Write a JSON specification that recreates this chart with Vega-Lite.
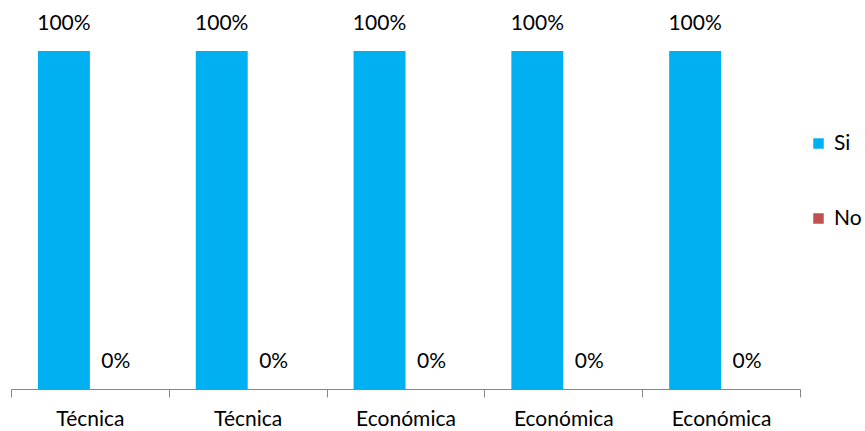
{
  "$schema": "https://vega.github.io/schema/vega-lite/v6.json",
  "width": 789,
  "height": 338,
  "autosize": {"type": "none"},
  "padding": {"left": 11, "top": 51, "right": 65, "bottom": 42},
  "background": "white",
  "config": {"view": {"stroke": null}, "font": "Lato"},
  "data": {
    "values": [
      {"grupo": "1", "categoria": "Técnica", "serie": "Si", "valor": 1},
      {"grupo": "1", "categoria": "Técnica", "serie": "No", "valor": 0},
      {"grupo": "2", "categoria": "Técnica", "serie": "Si", "valor": 1},
      {"grupo": "2", "categoria": "Técnica", "serie": "No", "valor": 0},
      {"grupo": "3", "categoria": "Económica", "serie": "Si", "valor": 1},
      {"grupo": "3", "categoria": "Económica", "serie": "No", "valor": 0},
      {"grupo": "4", "categoria": "Económica", "serie": "Si", "valor": 1},
      {"grupo": "4", "categoria": "Económica", "serie": "No", "valor": 0},
      {"grupo": "5", "categoria": "Económica", "serie": "Si", "valor": 1},
      {"grupo": "5", "categoria": "Económica", "serie": "No", "valor": 0}
    ]
  },
  "encoding": {
    "x": {
      "field": "grupo",
      "type": "nominal",
      "scale": {"paddingInner": 0, "paddingOuter": 0},
      "axis": {
        "title": null,
        "labelAngle": 0,
        "labelExpr": "['Técnica','Técnica','Económica','Económica','Económica'][toNumber(datum.value)-1]",
        "labelFont": "Lato",
        "labelFontSize": 21,
        "labelColor": "#000000",
        "labelPadding": 11,
        "domainColor": "#868686",
        "tickColor": "#868686",
        "tickSize": 8,
        "tickBand": "extent",
        "grid": false
      }
    },
    "xOffset": {
      "field": "serie",
      "type": "nominal",
      "sort": ["Si", "No"],
      "scale": {"paddingInner": 0, "paddingOuter": 0.519}
    },
    "y": {
      "field": "valor",
      "type": "quantitative",
      "scale": {"domain": [0, 1]},
      "axis": null
    }
  },
  "layer": [
    {
      "mark": {"type": "bar"},
      "encoding": {
        "color": {
          "field": "serie",
          "type": "nominal",
          "sort": ["Si", "No"],
          "scale": {"domain": ["Si", "No"], "range": ["#00B0F0", "#C0504D"]},
          "legend": {
            "title": null,
            "orient": "none",
            "legendX": 797,
            "legendY": 82,
            "symbolType": "square",
            "symbolSize": 110,
            "symbolStrokeWidth": 0,
            "labelFont": "Lato",
            "labelFontSize": 21,
            "labelColor": "#000000",
            "labelOffset": 5,
            "rowPadding": 53
          }
        }
      }
    },
    {
      "mark": {"type": "text", "dy": -27, "baseline": "middle", "align": "center", "font": "Lato", "fontSize": 21, "color": "#000000"},
      "encoding": {
        "text": {"field": "valor", "type": "quantitative", "format": ".0%"}
      }
    }
  ]
}
